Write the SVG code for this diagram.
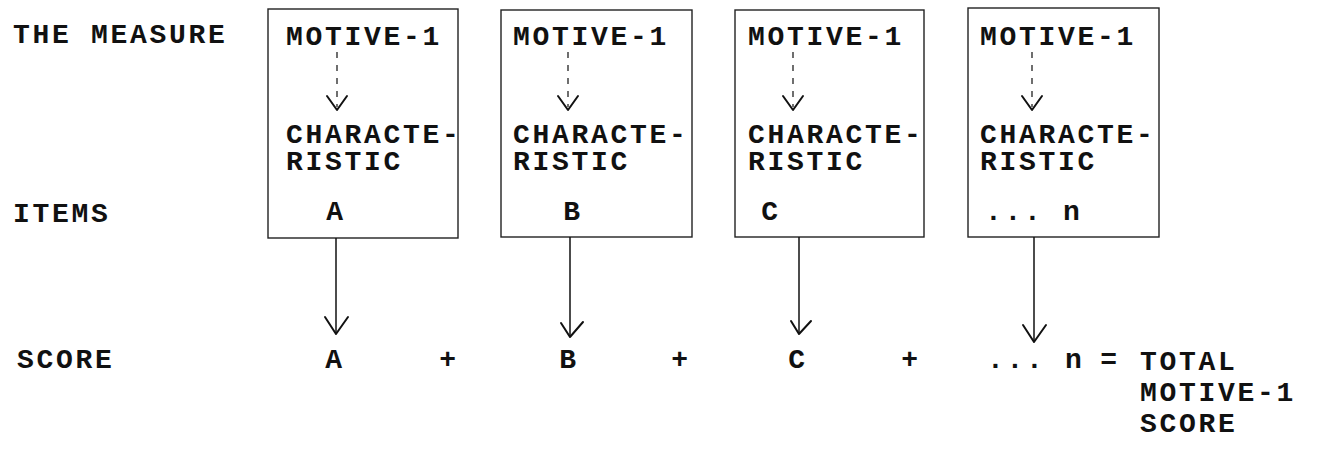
<svg xmlns="http://www.w3.org/2000/svg" width="1318" height="450" viewBox="0 0 1318 450">
<style>
  text { font-family: "Liberation Mono", "Courier New", monospace; font-weight: bold; font-size: 28px; letter-spacing: 2.7px; fill: #111; }
  .box { fill: none; stroke: #222; stroke-width: 1.4; }
  .dash { fill: none; stroke: #222; stroke-width: 1.3; stroke-dasharray: 6 7; }
  .conn { fill: none; stroke: #111; stroke-width: 1.5; }
  .head { fill: none; stroke: #111; stroke-width: 2; stroke-linecap: round; stroke-linejoin: round; }
  .mid { text-anchor: middle; }
</style>
<rect width="1318" height="450" fill="#fff"/>

<g id="labels">
  <text x="13" y="43">THE MEASURE</text>
  <text x="13" y="222">ITEMS</text>
  <text x="17" y="368">SCORE</text>
</g>

<g id="item-a">
  <rect class="box" x="268" y="9" width="190" height="229"/>
  <text x="286" y="45">MOTIVE-1</text>
  <path class="dash" d="M337 52 V107"/>
  <path class="head" d="M327 96 L337 110 L347 96"/>
  <text x="286" y="143">CHARACTE-<tspan x="286" dy="27">RISTIC</tspan></text>
  <text class="mid" x="336" y="220">A</text>
</g>

<g id="item-b">
  <rect class="box" x="501" y="10" width="191" height="227"/>
  <text x="513" y="45">MOTIVE-1</text>
  <path class="dash" d="M568 52 V107"/>
  <path class="head" d="M558 96 L568 110 L578 96"/>
  <text x="513" y="143">CHARACTE-<tspan x="513" dy="27">RISTIC</tspan></text>
  <text class="mid" x="573" y="220">B</text>
</g>

<g id="item-c">
  <rect class="box" x="735" y="10" width="189" height="227"/>
  <text x="748" y="45">MOTIVE-1</text>
  <path class="dash" d="M793 52 V107"/>
  <path class="head" d="M783 96 L793 110 L803 96"/>
  <text x="748" y="143">CHARACTE-<tspan x="748" dy="27">RISTIC</tspan></text>
  <text class="mid" x="771" y="220">C</text>
</g>

<g id="item-n">
  <rect class="box" x="968" y="8" width="191" height="229"/>
  <text x="980" y="45">MOTIVE-1</text>
  <path class="dash" d="M1032 52 V107"/>
  <path class="head" d="M1022 96 L1032 110 L1042 96"/>
  <text x="980" y="143">CHARACTE-<tspan x="980" dy="27">RISTIC</tspan></text>
  <text x="985" y="220">... n</text>
</g>

<g id="connectors">
  <path class="conn" d="M336 238 V333"/>
  <path class="head" d="M325 317 L336 334 L348 317"/>
  <path class="conn" d="M570 237 V336"/>
  <path class="head" d="M561 323 L570 337 L583 322"/>
  <path class="conn" d="M799 237 V333"/>
  <path class="head" d="M791 321 L799 334 L811 321"/>
  <path class="conn" d="M1034 237 V341"/>
  <path class="head" d="M1023 325 L1034 342 L1046 325"/>
</g>

<g id="score-row">
  <text class="mid" x="335" y="368">A</text>
  <text class="mid" x="449" y="368">+</text>
  <text class="mid" x="569" y="368">B</text>
  <text class="mid" x="681" y="368">+</text>
  <text class="mid" x="798" y="368">C</text>
  <text class="mid" x="911" y="368">+</text>
  <text x="987" y="368">... n</text>
  <text class="mid" x="1110" y="368">=</text>
</g>

<g id="total">
  <text x="1140" y="370">TOTAL<tspan x="1140" dy="31">MOTIVE-1</tspan><tspan x="1140" dy="31">SCORE</tspan></text>
</g>
</svg>
